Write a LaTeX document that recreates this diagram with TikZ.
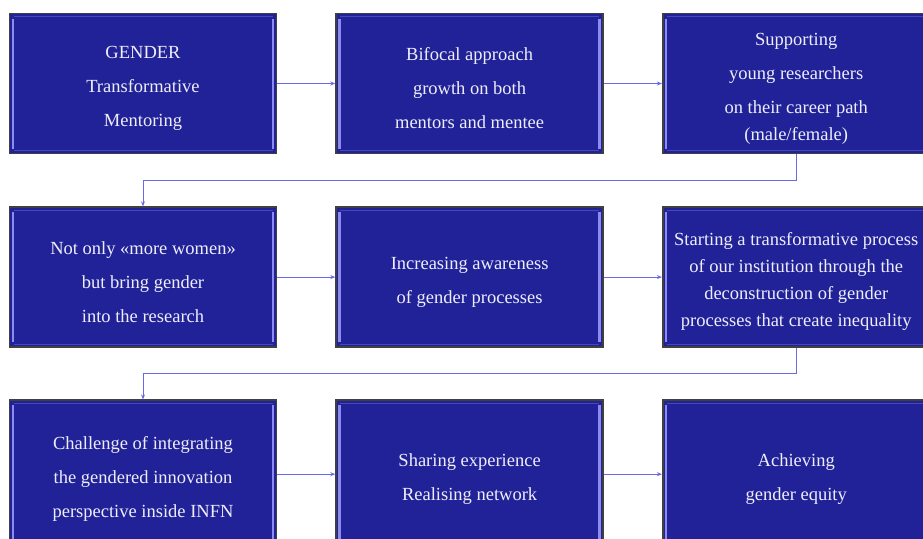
\documentclass[tikz,border=0pt]{standalone}
\usepackage{fontspec}
\setmainfont{Liberation Serif}
\usetikzlibrary{positioning, arrows.meta}

\definecolor{boxblue}{RGB}{34,34,152}
\definecolor{boxtext}{RGB}{238,238,250}
\definecolor{bevelblue}{RGB}{140,140,240}
\definecolor{arrowblue}{RGB}{105,105,235}

\newcommand{\lift}{\rule{0pt}{22pt}}

\begin{document}
\begin{tikzpicture}[
		stage/.style={
			draw=gray!50!black,
			line width=1.6pt,
			fill=boxblue,
			text=boxtext,
			minimum width=267pt,
			minimum height=140pt,
			font=\fontsize{18.5}{34}\selectfont,
			path picture={
				\draw[bevelblue, line width=2.4pt]
					([xshift=3.5pt,yshift=-5pt]path picture bounding box.north west) --
					([xshift=3.5pt,yshift=5pt]path picture bounding box.south west);
				\draw[bevelblue, line width=2.4pt]
					([xshift=-3.5pt,yshift=-5pt]path picture bounding box.north east) --
					([xshift=-3.5pt,yshift=5pt]path picture bounding box.south east);
				\draw[bevelblue!35!boxblue, line width=1pt]
					([xshift=4pt,yshift=-3pt]path picture bounding box.north west) --
					([xshift=-4pt,yshift=-3pt]path picture bounding box.north east);
				\draw[bevelblue!35!boxblue, line width=1pt]
					([xshift=4pt,yshift=3pt]path picture bounding box.south west) --
					([xshift=-4pt,yshift=3pt]path picture bounding box.south east);
			}
		},
		flow/.style={draw=arrowblue, line width=1pt, -{Stealth[length=5pt,width=4pt]}},
		every text node part/.style={align=center}
	]
	\useasboundingbox (0,0) rectangle (923pt,-538pt);
	\clip (0,0) rectangle (923pt,-538pt);

	\node[stage] (gtm) at (143pt,-83.5pt) {\lift GENDER \\ Transformative \\ Mentoring};
	\node[stage, right=58pt of gtm] (bifocal) {\lift Bifocal approach \\ growth on both \\ mentors and mentee};
	\node[stage, right=58pt of bifocal] (support) {\lift Supporting \\ young researchers \\ on their career path \\[-7pt] (male/female)};

	\node[stage, below=52pt of gtm] (notOnly) {\lift Not only «more women» \\ but bring gender \\ into the research};
	\node[stage, right=58pt of notOnly] (aware) {\lift Increasing awareness \\ of gender processes};
	\node[stage, right=58pt of aware, font=\fontsize{18.5}{27}\selectfont] (startProc) {\lift Starting a transformative process \\ of our institution through the \\ deconstruction of gender \\ processes that create inequality};

	\node[stage, below=51.5pt of notOnly, anchor=north, minimum height=148pt] (challenge) {\lift Challenge of integrating \\ the gendered innovation \\ perspective inside INFN};
	\node[stage, right=58pt of challenge, minimum height=148pt] (sharing) {\lift Sharing experience \\ Realising network};
	\node[stage, right=58pt of sharing, minimum height=148pt] (equity) {\lift Achieving \\ gender equity};

	\draw[flow] (gtm) -- (bifocal);
	\draw[flow] (bifocal) -- (support);
	\draw[flow] (support.south) -- ++(0,-26pt) -| (notOnly.north);
	\draw[flow] (notOnly) -- (aware);
	\draw[flow] (aware) -- (startProc);
	\draw[flow] (startProc.south) -- ++(0,-26pt) -| (challenge.north);
	\draw[flow] (challenge) -- (sharing);
	\draw[flow] (sharing) -- (equity);
\end{tikzpicture}
\end{document}
